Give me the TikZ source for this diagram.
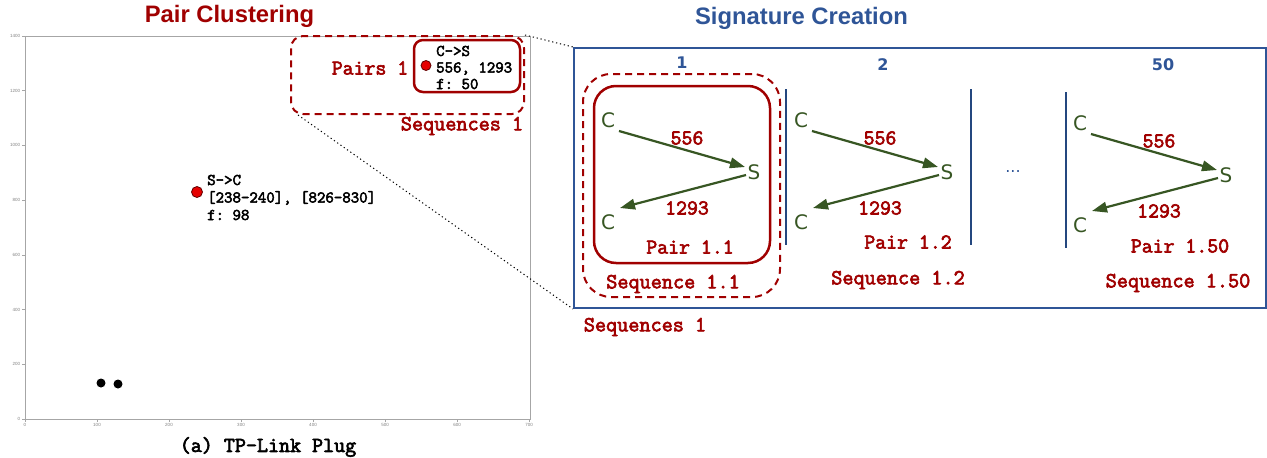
\documentclass[tikz,border=0pt]{standalone}
\usepackage{fontspec}
\usetikzlibrary{arrows.meta,calc}
\newfontfamily\arialf{Liberation Sans}
\newfontfamily\dvs{DejaVu Sans}
\setmonofont{Latin Modern Mono}[AutoFakeBold=3]
\newcommand\cmono{\ttfamily}
\definecolor{dred}{HTML}{A00000}
\definecolor{dgreen}{HTML}{375623}
\definecolor{sblue}{HTML}{2F5597}
\definecolor{sepblue}{HTML}{24477F}
\definecolor{ptred}{HTML}{E50000}
\begin{document}
\begin{tikzpicture}[x=1pt,y=-1pt,
  ttl/.style={font=\arialf\bfseries\fontsize{23.8}{26}\selectfont, inner sep=0pt},
  redmono/.style={text=dred, font=\cmono\bfseries\fontsize{21.2}{22}\selectfont, inner sep=0pt},
  bigmono/.style={text=dred, font=\cmono\bfseries\fontsize{21.6}{22}\selectfont, inner sep=0pt},
  annot/.style={font=\cmono\bfseries\fontsize{16.4}{17.5}\selectfont, inner sep=0pt, align=left, anchor=west},
  letter/.style={text=dgreen, font=\dvs\fontsize{20}{21}\selectfont, inner sep=0pt},
  numlbl/.style={text=sblue, font=\dvs\bfseries\fontsize{16}{18}\selectfont, inner sep=0pt},
  arr/.style={draw=dgreen, line width=2.2pt, -{Triangle[length=15pt,width=10.5pt]}},
  ticklbl/.style={font=\arialf\fontsize{4.5}{5}\selectfont, text=gray, inner sep=1.5pt},
  dashbox/.style={draw=dred, line width=2pt, dash pattern=on 7pt off 5pt, inner sep=0pt},
  solidbox/.style={draw=dred, line width=2.5pt, inner sep=0pt},
  sepline/.style={draw=sepblue, line width=2pt},
  dotline/.style={draw=black, line width=1pt, dash pattern=on 1.2pt off 2.8pt},
  datapt/.style={circle, fill=ptred, draw=dred!60!black, line width=0.8pt, inner sep=0pt},
  blkpt/.style={circle, fill=black, inner sep=0pt, minimum size=9pt}
]
\useasboundingbox (0,0) rectangle (1267,458);

% titles
\node[ttl, text=dred] (t1) at (229.5,16) {Pair Clustering};
\node[ttl, text=sblue] (t2) at (801.5,18) {Signature Creation};

% ---- plot ----
\draw[gray!70, line width=1pt] (25,36) rectangle (530,419);
\foreach \v in {0,200,...,1400} {
  \draw[gray!70, line width=0.6pt] (25,{419-0.27357*\v}) -- ++(-3,0) node[left, ticklbl] {\v};
}
\foreach \v in {0,100,...,700} {
  \draw[gray!70, line width=0.6pt] ({25+0.72*\v},419) -- ++(0,3) node[below, ticklbl] {\v};
}
\node[blkpt] (b1) at (101,383) {};
\node[blkpt] (b2) at (118,384) {};
\node[datapt, minimum size=11pt] (p2) at (197,192) {};
\node[annot] (a2) at (207,197.5) {S->C\\{[238-240], [826-830]}\\f: 98};

\node[font=\cmono\bfseries\fontsize{21.4}{22}\selectfont, inner sep=0pt] (cap) at (268,447) {(a) TP-Link Plug};

% callout in plot
\node[dashbox, rounded corners=12pt, minimum width=233pt, minimum height=78pt] (pairsbox) at (407.5,75) {};
\node[solidbox, rounded corners=9pt, minimum width=106pt, minimum height=52pt] (pairbox) at (467,66) {};
\node[datapt, minimum size=10pt] (p1) at (426,65.5) {};
\node[annot, font=\cmono\bfseries\fontsize{16.4}{16.5}\selectfont] (a1) at (436,67.5) {C->S\\556, 1293\\f: 50};
\node[redmono] (pairs1) at (370,68) {Pairs 1};
\node[bigmono] (seqs1a) at (462,126) {Sequences 1};

% ---- signature creation ----
\node[draw=sblue, line width=2pt, minimum width=692pt, minimum height=260pt, inner sep=0pt] (sigbox) at (920,178) {};
\draw[dotline] (pairsbox.north east) -- (sigbox.north west);
\draw[dotline] ($(pairsbox.south west)+(8,0)$) -- (sigbox.south west);

\node[dashbox, rounded corners=28pt, minimum width=197pt, minimum height=223pt] (seqbox) at (681.5,185.5) {};
\node[solidbox, rounded corners=22pt, minimum width=176pt, minimum height=177pt] (pairbox1) at (682,174.5) {};

\draw[sepline] (786,89) -- (786,245);
\draw[sepline] (971,89) -- (971,245);
\draw[sepline] (1066,92) -- (1066,248);

\node[numlbl] (n1) at (682,63) {1};
\node[numlbl] (n2) at (883,65) {2};
\node[numlbl] (n50) at (1163,65) {50};
\node[numlbl, font=\dvs\fontsize{16}{18}\selectfont] (dots) at (1013,172) {...};

\foreach \dx/\dy/\k/\px/\py/\sx/\sy in {0/0/1/690/247/673/284, 193/0/2/908/242/898/280, 472/3/50/1180/246/1178/283} {
  \node[letter] (ca\k) at ({608+\dx},{120+\dy}) {C};
  \node[letter] (s\k) at ({754+\dx},{172+\dy}) {S};
  \node[letter] (cb\k) at ({608+\dx},{222+\dy}) {C};
  \draw[arr] ($(ca\k.center)+(11,11)$) -- ($(s\k.center)+(-9,-5)$);
  \draw[arr] ($(s\k.center)+(-8,3)$) -- ($(cb\k.center)+(12,-14)$);
  \node[redmono] (w\k) at ({687+\dx},{138+\dy}) {556};
  \node[redmono] (v\k) at ({687+\dx},{208+\dy}) {1293};
  \node[redmono] (pl\k) at (\px,\py) {Pair 1.\k};
  \node[bigmono] (sl\k) at (\sx,\sy) {Sequence 1.\k};
}
\node[bigmono] (seqs1b) at (645,327) {Sequences 1};
\end{tikzpicture}
\end{document}
